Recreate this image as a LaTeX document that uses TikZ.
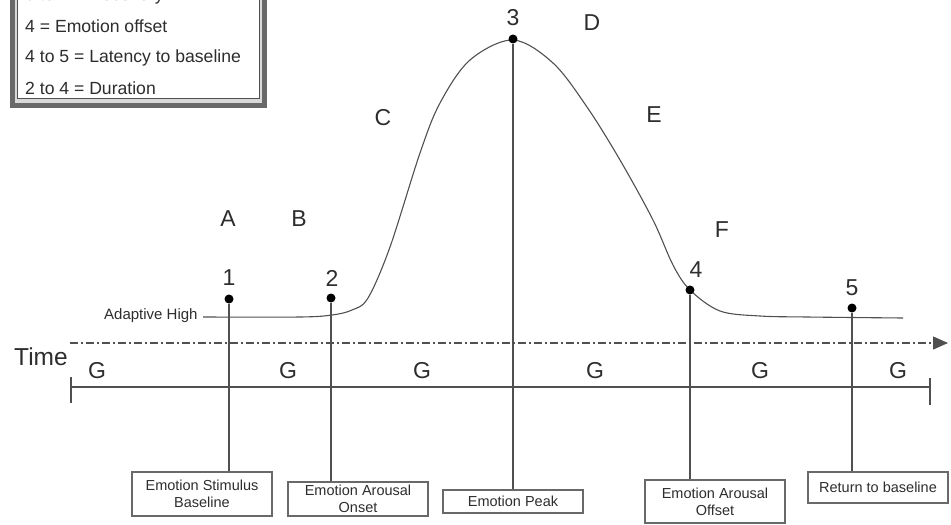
\documentclass[tikz,border=0pt]{standalone}
\usepackage{fontspec}
\setmainfont{Liberation Sans}
\usetikzlibrary{arrows.meta,positioning}
\definecolor{eInk}{RGB}{45,45,45}
\definecolor{eLine}{RGB}{80,80,80}
\definecolor{eFrame}{RGB}{105,105,105}

\begin{document}
\begin{tikzpicture}[
    x=1pt, y=-1pt,
    every node/.style={text=eInk},
    pt/.style={circle, fill=black, inner sep=0pt, minimum size=9pt},
    lab/.style={font=\fontsize{23}{26}\selectfont},
    note/.style={font=\fontsize{17.6}{20}\selectfont, anchor=west, inner sep=0pt},
    tag/.style={draw=eFrame, line width=1.3pt, minimum width=140pt, inner sep=0pt,
                align=center, font=\fontsize{14.5}{17}\selectfont}
]
  \useasboundingbox (0,0) rectangle (951,525);
  \clip (0,0) rectangle (951,525);

  % legend (top part cut off)
  \draw[eFrame, line width=5pt, fill=gray!30] (12,-40) rectangle (264.5,105);
  \draw[eLine, line width=0.8pt, fill=white] (17.5,-40) rectangle (259,98.5);
  \node[note] (l1) at (25,-4) {3 to 4 = Recovery};
  \node[note] (l2) at (25,26) {4 = Emotion offset};
  \node[note] (l3) at (25,58) {4 to 5 = Latency to baseline};
  \node[note] (l4) at (25,88) {2 to 4 = Duration};

  % emotion curve
  \node[font=\fontsize{15}{18}\selectfont, anchor=west, inner sep=0pt] (ah) at (104,316) {Adaptive High};
  \draw[eLine, line width=1.1pt] plot[smooth, tension=0.55] coordinates {
    (203,317) (300,317) (332,315) (352,310) (368,298) (390,247) (420,153)
    (440,103) (470,60) (513,40) (553,63) (587,107) (620,160) (653,220)
    (673,265) (690,290) (720,311) (760,316) (807,317) (903,318)};

  % points on the curve
  \foreach \i/\x/\y in {1/229/299, 2/331/298, 3/513/39, 4/690/290, 5/852/308} {
    \node[pt] (p\i) at (\x,\y) {};
  }
  \foreach \i/\x/\y in {1/229/278, 2/332/278, 3/513/18, 4/696/270, 5/852/288} {
    \node[lab] (n\i) at (\x,\y) {\i};
  }

  % phase letters
  \foreach \t/\x/\y in {A/228/219, B/299/219, C/383/118, D/592/23, E/654/115, F/722/230} {
    \node[lab] (ph\t) at (\x,\y) {\t};
  }

  % time axis
  \coordinate (t0) at (70,343);
  \coordinate (t1) at (948,343);
  \draw[eLine, line width=1.1pt, dash pattern=on 8pt off 3pt on 2pt off 3pt,
        -{Triangle[length=15pt, width=13pt]}] (t0) -- (t1);
  \node[lab, font=\fontsize{24.5}{27}\selectfont] (time) at (41,357) {Time};
  \foreach \x [count=\k] in {97, 288, 422, 595, 760, 898} {
    \node[lab] (g\k) at (\x,371) {G};
  }
  \coordinate (a0) at (71,387);
  \coordinate (a1) at (930,387);
  \draw[eLine, line width=1.1pt] (a0) -- (a1);
  \draw[eLine, line width=1.1pt] (71,377) -- (71,403);
  \draw[eLine, line width=1.1pt] (930,378) -- (930,405);

  % event boxes
  \node[tag, minimum height=44pt] (b1) at (202,494) {Emotion Stimulus\\Baseline};
  \node[tag, minimum height=34pt] (b2) at (358,499) {Emotion Arousal\\Onset};
  \node[tag, minimum height=23pt] (b3) at (513,501.5) {Emotion Peak};
  \node[tag, minimum height=43pt] (b4) at (715,501.5) {Emotion Arousal\\Offset};
  \node[tag, minimum height=31pt] (b5) at (878,487.5) {Return to baseline};

  \foreach \i in {1,...,5} {
    \draw[eLine, line width=1.1pt] (p\i) -- (p\i |- b\i.north);
  }
\end{tikzpicture}
\end{document}
